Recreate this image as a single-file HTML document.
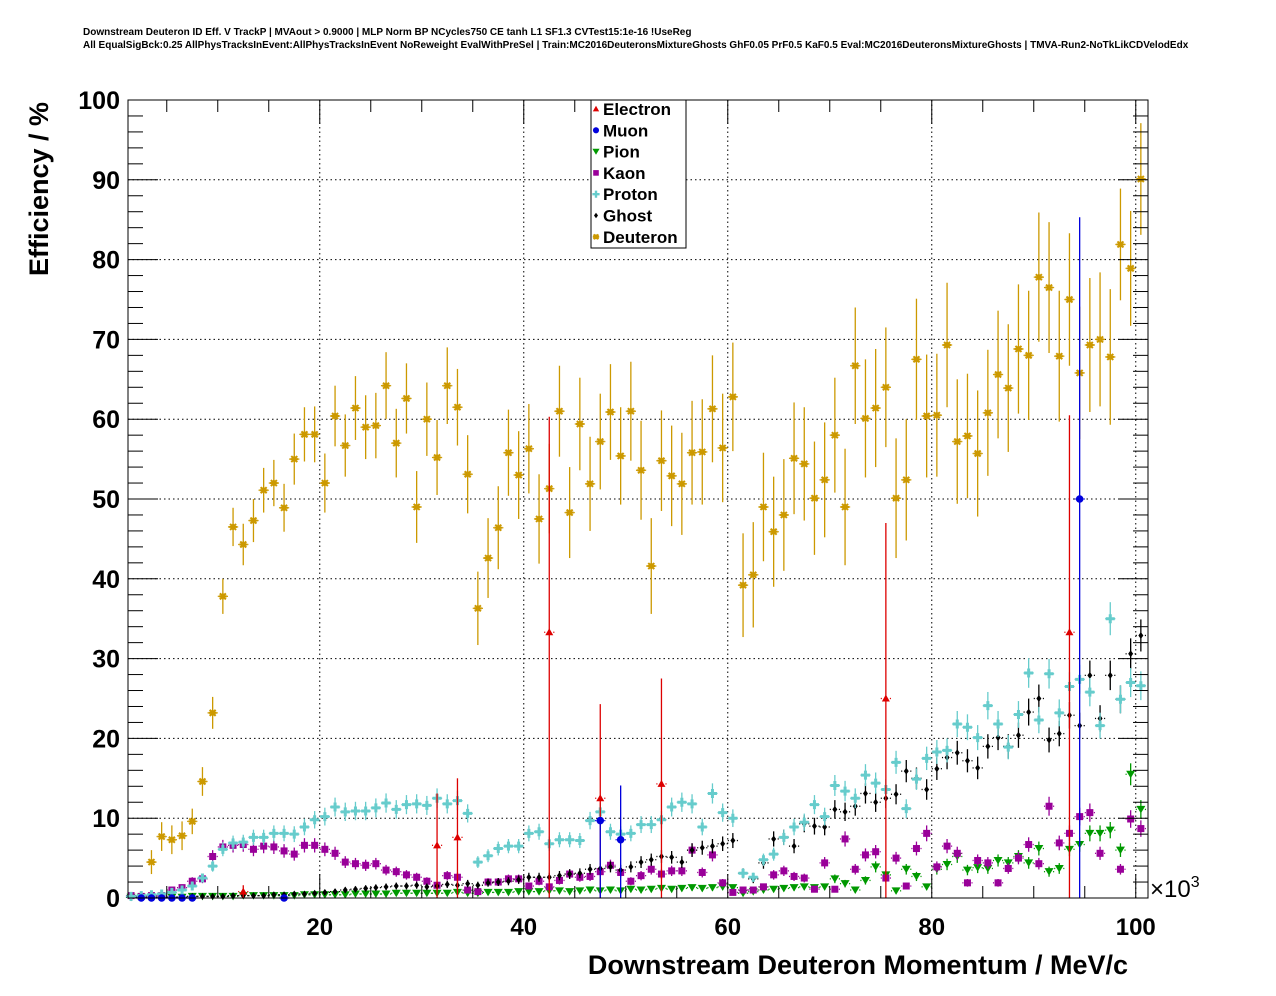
<!DOCTYPE html>
<html><head><meta charset="utf-8"><style>
html,body{margin:0;padding:0;background:#fff;}
svg{display:block;font-family:"Liberation Sans",Arial,sans-serif;}
</style></head><body>
<svg id="chart" width="1276" height="996" viewBox="0 0 1276 996">
<text x="83" y="35" font-size="10" font-weight="bold">Downstream Deuteron ID Eff. V TrackP | MVAout &gt; 0.9000 | MLP Norm BP NCycles750 CE tanh L1 SF1.3 CVTest15:1e-16 !UseReg</text>
<text x="83" y="48" font-size="10" font-weight="bold">All EqualSigBck:0.25 AllPhysTracksInEvent:AllPhysTracksInEvent NoReweight EvalWithPreSel | Train:MC2016DeuteronsMixtureGhosts GhF0.05 PrF0.5 KaF0.5 Eval:MC2016DeuteronsMixtureGhosts | TMVA-Run2-NoTkLikCDVelodEdx</text>
<g id="grid"></g>
<g id="marks"></g>
<rect x="128" y="100" width="1020" height="798" fill="none" stroke="#000" stroke-width="1"/>
<g id="axes"></g>
<text x="48" y="189" font-size="27" font-weight="bold" text-anchor="middle" transform="rotate(-90 48 189)">Efficiency / %</text>
<text x="1128" y="974" font-size="27" font-weight="bold" text-anchor="end">Downstream Deuteron Momentum / MeV/c</text>
<text x="1150" y="897" font-size="24">×10<tspan font-size="16" dy="-10">3</tspan></text>
<g>
<rect x="591" y="100" width="95" height="148" fill="#fff" stroke="#000" stroke-width="1"/>
<g id="legend"></g>
</g>
</svg>
<script>
// bin centres (×10^3 MeV/c)
const bins = [];
for (let i = 0; i < 100; i++) bins.push(1.5 + i);
const xTicks = [20, 40, 60, 80, 100];
const yTicks = [0, 10, 20, 30, 40, 50, 60, 70, 80, 90, 100];

const deuteron = [null,null,4.5,7.7,7.3,7.8,9.6,14.6,23.2,37.8,46.5,44.3,47.3,51.1,52.0,48.9,55.0,58.1,58.1,52.0,60.4,56.7,61.4,59.0,59.2,64.2,57.0,62.6,49.0,60.0,55.2,64.2,61.5,53.1,36.3,42.6,46.4,55.8,53.0,56.3,47.5,51.3,61.0,48.3,59.4,51.9,57.2,60.9,55.4,61.0,53.6,41.6,54.8,52.9,51.9,55.8,55.9,61.3,56.4,62.8,39.2,40.5,49.0,45.9,48.0,55.1,54.4,50.1,52.4,58.0,49.0,66.7,60.1,61.4,64.0,50.1,52.4,67.5,60.4,60.5,69.3,57.2,57.9,55.7,60.8,65.6,63.9,68.8,68.0,77.8,76.5,67.9,75.0,65.8,69.3,70.0,67.8,81.9,78.9,90.1];
const deuteronErr = [0,0,1.5,1.8,1.8,1.8,1.6,1.8,2.0,2.2,2.4,2.6,2.7,2.8,2.9,3.0,3.2,3.4,3.5,3.7,3.8,3.9,4.0,4.0,4.1,4.2,4.3,4.4,4.5,4.6,4.7,4.8,4.8,4.9,4.6,5.0,5.2,5.4,5.5,5.6,5.6,5.6,5.7,5.7,5.8,5.9,6.0,6.0,6.1,6.2,6.2,6.0,6.3,6.3,6.4,6.5,6.6,6.7,6.8,6.8,6.5,6.6,6.8,6.9,7.0,7.0,7.1,7.1,7.2,7.2,7.3,7.3,7.4,7.4,7.5,7.5,7.6,7.6,7.7,7.7,7.8,7.8,7.8,7.9,7.9,8.0,8.0,8.1,8.1,8.1,8.2,8.2,8.3,8.3,8.4,8.4,8.5,7.0,7.2,7.0];
const proton = [0.2,0.3,0.4,0.5,0.7,1.0,1.5,2.5,4.0,6.1,6.9,7.0,7.6,7.6,8.1,8.1,8.0,8.9,9.8,10.2,11.4,10.8,10.9,10.9,11.3,11.9,11.1,11.7,11.8,11.6,12.5,11.8,12.2,10.6,4.5,5.3,6.2,6.5,6.5,8.1,8.3,6.8,7.3,7.3,7.2,9.7,10.8,8.3,8.0,8.1,9.2,9.2,9.8,11.4,12.0,11.8,8.9,13.1,10.7,10.0,3.1,2.6,4.8,5.5,7.6,8.9,9.5,11.7,10.2,14.1,13.4,12.5,15.4,14.4,13.6,17.0,11.2,14.9,17.5,18.3,18.5,21.8,21.4,20.1,24.1,21.8,18.9,23.0,28.2,22.3,28.1,23.2,26.5,27.4,25.8,21.6,35.0,24.9,27.0,26.6];
const ghost = [0.1,0.1,0.1,0.1,0.1,0.1,0.2,0.2,0.2,0.2,0.3,0.3,0.3,0.3,0.4,0.4,0.5,0.5,0.6,0.7,0.8,1.0,1.1,1.2,1.3,1.4,1.5,1.5,1.6,1.4,1.5,1.7,1.6,1.8,1.6,1.9,2.0,2.1,2.3,2.6,2.6,2.6,2.8,3.0,3.1,3.6,3.7,3.9,3.5,3.9,4.5,4.8,5.2,5.1,4.5,6.0,6.3,6.5,6.8,7.2,3.1,2.4,4.4,7.4,7.6,6.5,9.3,9.0,8.9,11.1,10.8,11.5,13.1,12.0,12.5,13.0,15.9,15.0,13.6,16.2,17.6,18.2,17.2,16.3,19.0,20.1,19.0,20.4,23.3,25.0,19.8,20.6,22.9,21.6,27.9,22.5,27.9,24.9,30.6,32.9];
const kaon = [0.3,0.2,0.3,0.3,1.0,1.3,2.1,2.4,5.2,6.4,6.6,6.7,6.1,6.5,6.4,5.9,5.5,6.6,6.6,6.1,5.6,4.5,4.3,4.1,4.3,3.5,3.3,2.9,2.6,2.1,1.6,2.8,2.6,1.0,0.8,2.0,2.0,2.4,2.4,1.5,2.1,1.4,2.2,3.0,2.6,2.7,3.3,4.1,3.2,2.1,2.8,3.6,3.0,3.4,3.4,6.0,3.2,5.4,1.9,0.7,1.0,1.0,1.4,2.9,3.4,2.7,2.5,1.1,4.4,1.1,7.4,3.6,5.4,5.8,2.5,5.0,1.5,6.2,8.1,3.9,6.5,5.6,1.9,4.7,4.4,1.9,3.7,5.0,6.7,4.3,11.5,6.9,8.1,10.2,10.7,5.6,null,3.6,9.9,8.7];
const pion = [0.1,0.1,0.1,0.1,0.1,0.1,0.2,0.2,0.2,0.2,0.2,0.3,0.3,0.3,0.3,0.3,0.3,0.4,0.4,0.4,0.4,0.4,0.5,0.5,0.5,0.5,0.6,0.6,0.6,0.6,0.6,0.6,0.7,0.6,0.6,0.7,0.7,0.7,0.8,0.8,0.8,0.9,0.9,0.8,0.9,1.0,0.9,1.0,0.9,1.1,1.0,1.1,1.2,1.1,1.2,1.3,1.2,1.3,1.4,1.3,0.6,0.8,1.0,1.1,1.2,1.3,1.4,1.3,1.4,2.4,1.8,1.0,2.2,3.9,2.9,0.9,3.6,2.7,1.4,3.6,4.2,5.2,3.5,3.8,3.7,4.7,4.4,5.2,4.4,6.2,3.3,3.7,6.1,6.7,8.1,8.1,8.5,6.0,15.5,11.1];
const electronX = [12.5, 31.5, 33.5, 42.5, 47.5, 53.5, 75.5, 93.5];
const electron = [0.8, 6.6, 7.6, 33.3, 12.5, 14.3, 25.0, 33.3];
const electronErrHi = [0.8, 6.5, 7.4, 27.0, 11.8, 13.2, 22.0, 27.2];
const electronErrLo = [0.8, 6.6, 7.6, 33.3, 12.5, 14.3, 25.0, 33.3];
const muonX = [2.5, 3.5, 4.5, 5.5, 6.5, 7.5, 16.5, 47.5, 49.5, 94.5];
const muon = [0, 0, 0, 0, 0, 0, 0, 9.7, 7.3, 50.0];
const muonErrHi = [0, 0, 0, 0, 0, 0, 0, 0, 6.8, 35.3];
const muonErrLo = [0, 0, 0, 0, 0, 0, 0, 9.7, 7.3, 50.0];

const NS = 'http://www.w3.org/2000/svg';
const xMin = 1.2, xMax = 101.2, L = 128, R = 1148, T = 100, B = 898;
const X = v => L + (v - xMin) / (xMax - xMin) * (R - L);
const Y = v => B - v / 100 * (B - T);
function mk(tag, attrs, parent) {
  const e = document.createElementNS(NS, tag);
  for (const k in attrs) e.setAttribute(k, attrs[k]);
  parent.appendChild(e);
  return e;
}
const grid = document.getElementById('grid');
const axes = document.getElementById('axes');
const marks = document.getElementById('marks');

xTicks.forEach(t => {
  const g = mk('line', {x1: X(t), x2: X(t), y1: T, y2: B, stroke: '#000', 'stroke-dasharray': '1.5,3', 'stroke-width': 1}, grid);
  
  
  const tx = mk('text', {x: X(t), y: 935, 'font-size': 24, 'font-weight': 'bold', 'text-anchor': 'middle'}, axes);
  tx.textContent = t;
  
  
});
yTicks.forEach(t => {
  if (t > 0 && t < 100) {
    const g = mk('line', {x1: L, x2: R, y1: Y(t), y2: Y(t), stroke: '#000', 'stroke-dasharray': '1.5,3', 'stroke-width': 1}, grid);
    
    
  }
  const tx = mk('text', {x: 120, y: Y(t) + 9, 'font-size': 25, 'font-weight': 'bold', 'text-anchor': 'end'}, axes);
  tx.textContent = t;
  
  
});
for (let v = 0; v <= 100; v += 2) {
  const len = v % 10 === 0 ? 30 : 15;
  mk('line', {x1: L, x2: L + len, y1: Y(v), y2: Y(v), stroke: '#000'}, axes);
  mk('line', {x1: R, x2: R - len, y1: Y(v), y2: Y(v), stroke: '#000'}, axes);
}
for (let v = 5; v <= 100; v += 5) {
  const len = v % 20 === 0 ? 24 : 12;
  mk('line', {x1: X(v), x2: X(v), y1: B, y2: B - len, stroke: '#000'}, axes);
  mk('line', {x1: X(v), x2: X(v), y1: T, y2: T + len, stroke: '#000'}, axes);
}

function marker(shape, cx, cy, col, parent, s) {
  s = s || 1;
  if (shape === 'tri') return mk('polygon', {points: `${cx},${cy-4*s} ${cx-4*s},${cy+3*s} ${cx+4*s},${cy+3*s}`, fill: col}, parent);
  if (shape === 'dtri') return mk('polygon', {points: `${cx},${cy+4*s} ${cx-4.5*s},${cy-3.5*s} ${cx+4.5*s},${cy-3.5*s}`, fill: col}, parent);
  if (shape === 'circ') return mk('circle', {cx, cy, r: 3.8*s, fill: col}, parent);
  if (shape === 'sq') return mk('rect', {x: cx-3.5*s, y: cy-3.5*s, width: 7*s, height: 7*s, fill: col}, parent);
  if (shape === 'cross') return mk('path', {d: `M${cx-4.5*s},${cy-1.5*s}h${3*s}v${-3*s}h${3*s}v${3*s}h${3*s}v${3*s}h${-3*s}v${3*s}h${-3*s}v${-3*s}h${-3*s}z`, fill: col}, parent);
  if (shape === 'dia') return mk('polygon', {points: `${cx},${cy-3.5*s} ${cx+2.5*s},${cy} ${cx},${cy+3.5*s} ${cx-2.5*s},${cy}`, fill: col}, parent);
  if (shape === 'star') {
    const g = mk('g', {stroke: col, 'stroke-width': 2}, parent);
    mk('line', {x1: cx-4*s, x2: cx+4*s, y1: cy, y2: cy}, g);
    mk('line', {x1: cx-3*s, x2: cx+3*s, y1: cy-3*s, y2: cy+3*s}, g);
    mk('line', {x1: cx-3*s, x2: cx+3*s, y1: cy+3*s, y2: cy-3*s}, g);
    mk('line', {x1: cx, x2: cx, y1: cy-3*s, y2: cy+3*s}, g);
    return g;
  }
}
function drawSeries(name, xs, vals, errHi, errLo, shape, col) {
  const g = mk('g', {}, marks);
  
  
  xs.forEach((xv, i) => {
    const v = vals[i];
    if (v === null || v === undefined) return;
    const cx = X(xv), cy = Y(Math.min(v, 100));
    const hw = (X(xv + 0.5) - X(xv - 0.5)) / 2;
    const eh = errHi ? errHi[i] : 0, el = errLo ? errLo[i] : 0;
    mk('line', {x1: cx - hw, x2: cx - 4, y1: cy, y2: cy, stroke: col, 'stroke-width': 1.3}, g);
    mk('line', {x1: cx + 4, x2: cx + hw, y1: cy, y2: cy, stroke: col, 'stroke-width': 1.3}, g);
    if (eh > 0 || el > 0) {
      mk('line', {x1: cx, x2: cx, y1: Y(Math.min(v + eh, 100)), y2: Y(Math.max(v - el, 0)), stroke: col, 'stroke-width': 1.3}, g);
    }
    const m = marker(shape, cx, cy, col, g);
    
    
  });
}
const errFrac = arr => arr.map(v => v === null ? 0 : Math.max(0.3, Math.sqrt(v) * 0.35));
drawSeries('pion', bins, pion, errFrac(pion), errFrac(pion), 'dtri', '#009900');
drawSeries('kaon', bins, kaon, errFrac(kaon), errFrac(kaon), 'sq', '#990099');
drawSeries('ghost', bins, ghost, errFrac(ghost), errFrac(ghost), 'dia', '#000000');
drawSeries('proton', bins, proton, errFrac(proton), errFrac(proton), 'cross', '#66cccc');
drawSeries('deuteron', bins, deuteron, deuteronErr, deuteronErr, 'star', '#cc9900');
drawSeries('electron', electronX, electron, electronErrHi, electronErrLo, 'tri', '#dd0000');
drawSeries('muon', muonX, muon, muonErrHi, muonErrLo, 'circ', '#0000dd');

const legendNames = ['Electron', 'Muon', 'Pion', 'Kaon', 'Proton', 'Ghost', 'Deuteron'];
const legendShapes = ['tri', 'circ', 'dtri', 'sq', 'cross', 'dia', 'star'];
const legendCols = ['#dd0000', '#0000dd', '#009900', '#990099', '#66cccc', '#000000', '#cc9900'];
const lg = document.getElementById('legend');
legendNames.forEach((n, i) => {
  const y = 109 + i * 21.3;
  const g = mk('g', {}, lg);
  
  
  marker(legendShapes[i], 596, y, legendCols[i], g, 0.8);
  const t = mk('text', {x: 603, y: y + 6, 'font-size': 17, 'font-weight': 'bold'}, g);
  t.textContent = n;
});
</script>
</body></html>
